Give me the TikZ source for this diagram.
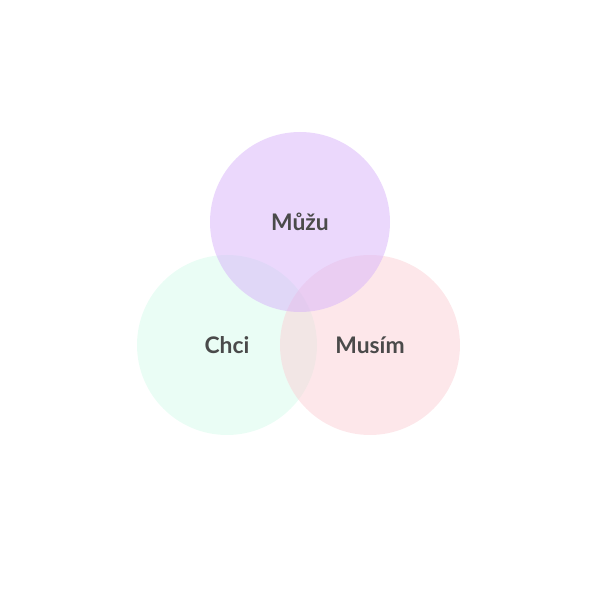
\documentclass[tikz,border=0pt]{standalone}
\usepackage{fontspec}
\setmainfont{Lato}
\definecolor{muzufill}{RGB}{215,178,250}
\definecolor{chcifill}{RGB}{214,251,235}
\definecolor{musimfill}{RGB}{251,208,214}
\definecolor{labelgray}{RGB}{74,74,74}
\tikzset{
    setcircle/.style={circle, minimum size=3.6cm, inner sep=0pt, fill opacity=0.5, text opacity=1},
    setlabel/.style={text=labelgray, font=\bfseries\fontsize{13}{15}\selectfont}
}
\begin{document}
\begin{tikzpicture}
    % Fix the page to the reference size
    \useasboundingbox (0,0) rectangle (12,12);

    % Draw the three circles
    \node[setcircle, fill=chcifill] (chci) at (4.54,5.1) {};
    \node[setcircle, fill=musimfill] (musim) at (7.4,5.1) {};
    \node[setcircle, fill=muzufill] (muzu) at (6,7.56) {};

    % Put the labels in the middle of each circle
    \node[setlabel] (chcilabel) at (chci.center) {Chci};
    \node[setlabel] (musimlabel) at (musim.center) {Musím};
    \node[setlabel] (muzulabel) at (muzu.center) {Můžu};

\end{tikzpicture}
\end{document}
